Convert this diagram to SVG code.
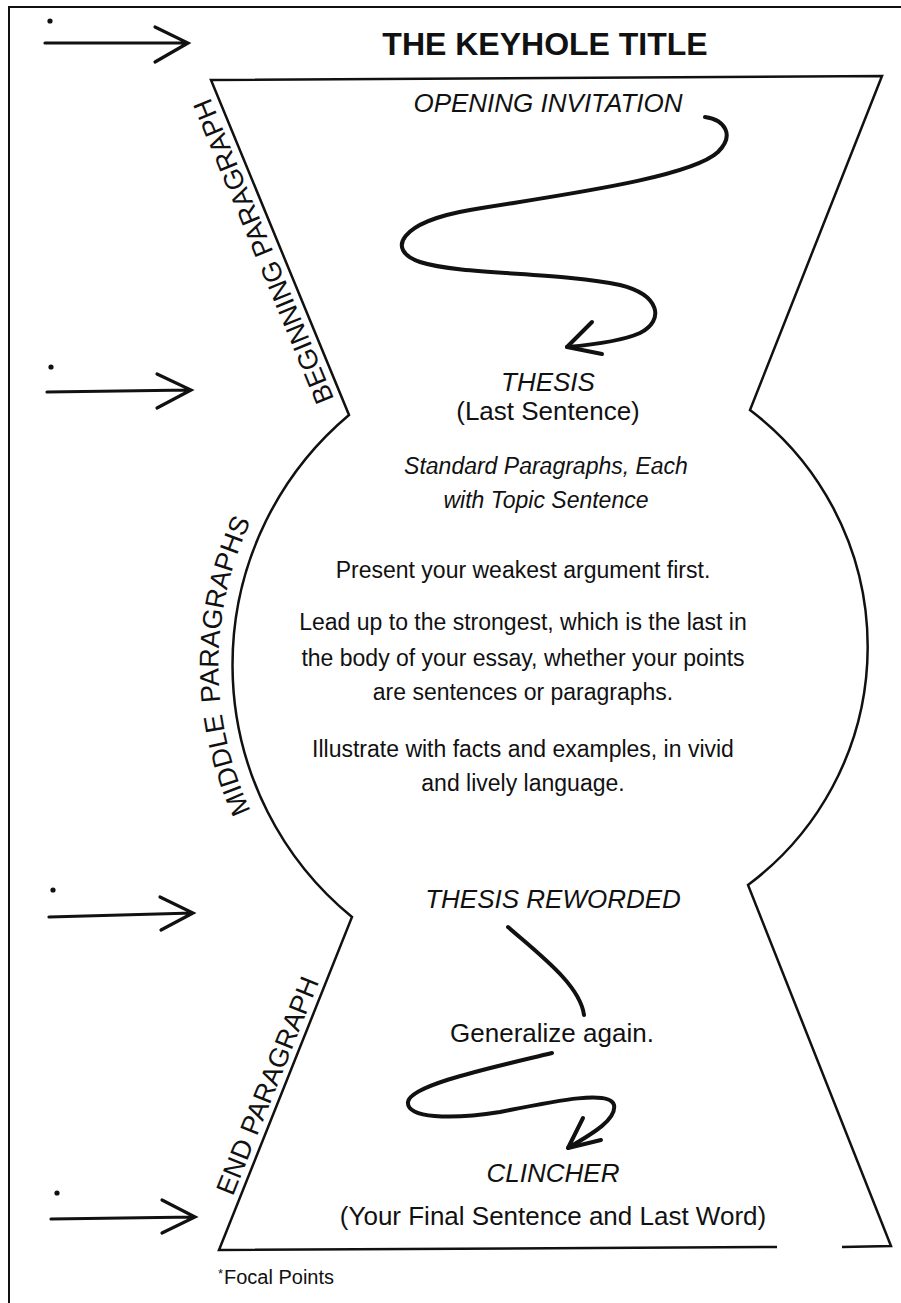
<svg xmlns="http://www.w3.org/2000/svg" width="901" height="1303" viewBox="0 0 901 1303">
<style>
text{font-family:"Liberation Sans",Arial,Helvetica,sans-serif;fill:#111}
.t{font-size:23px;text-anchor:middle}
.i{font-size:26px;font-style:italic;text-anchor:middle}
.side{font-size:27px}
.ln{fill:none;stroke:#111;stroke-width:2.5;stroke-linejoin:miter}
.sw{fill:none;stroke:#111;stroke-width:4;stroke-linecap:round;stroke-linejoin:round}
.ar{fill:none;stroke:#111;stroke-width:3.2;stroke-linecap:round;stroke-linejoin:miter}
</style>
<rect width="901" height="1303" fill="#fff"/>
<path d="M9,1303 V7 H901" fill="none" stroke="#111" stroke-width="2"/>
<g id="keyhole">
<path class="ln" d="M777,1247 L219,1250 L352,917 A326,326 0 0 1 349,415 L211,80 L882,76 L750,410 A297,297 0 0 1 748,885 L891,1246 L842,1247"/>
<path id="midArc" d="M298,884.5 A340,340 0 0 1 298,447.5" fill="none"/>
</g>
<g id="title"><text x="545" y="55" style="font-size:32px;font-weight:bold;text-anchor:middle">THE KEYHOLE TITLE</text></g>
<g id="beginning-label"><text class="side" transform="translate(272,248) rotate(-112.4)" text-anchor="middle">BEGINNING PARAGRAPH</text></g>
<g id="middle-label"><text class="side"><textPath href="#midArc" startOffset="50%" text-anchor="middle">MIDDLE<tspan dx="4"> PARAGRAPHS</tspan></textPath></text></g>
<g id="end-label"><text class="side" transform="translate(276,1089) rotate(-68.1)" text-anchor="middle">END PARAGRAPH</text></g>
<g id="opening"><text class="i" x="548" y="112">OPENING INVITATION</text></g>
<g id="thesis"><text class="i" x="548" y="391">THESIS</text><text class="t" x="548" y="420" style="font-size:26px">(Last Sentence)</text></g>
<g id="middle-body">
<text class="i" x="546" y="474" style="font-size:23px">Standard Paragraphs, Each</text>
<text class="i" x="546" y="508" style="font-size:23px">with Topic Sentence</text>
<text class="t" x="523" y="578">Present your weakest argument first.</text>
<text class="t" x="523" y="630">Lead up to the strongest, which is the last in</text>
<text class="t" x="523" y="666">the body of your essay, whether your points</text>
<text class="t" x="523" y="700">are sentences or paragraphs.</text>
<text class="t" x="523" y="757">Illustrate with facts and examples, in vivid</text>
<text class="t" x="523" y="791">and lively language.</text>
</g>
<g id="thesis-reworded"><text class="i" x="553" y="908">THESIS REWORDED</text></g>
<g id="generalize"><text class="t" x="552" y="1042" style="font-size:26px">Generalize again.</text></g>
<g id="clincher"><text class="i" x="553" y="1182">CLINCHER</text><text class="t" x="553" y="1225" style="font-size:26px">(Your Final Sentence and Last Word)</text></g>
<g id="footnote"><text x="218" y="1278" style="font-size:13px">*</text><text x="224" y="1284" style="font-size:20px">Focal Points</text></g>
<g id="connectors">
<path class="sw" d="M705,117 C725,120 735,135 718,152 C690,178 560,195 470,210 C400,222 385,250 420,262 C460,275 560,272 620,285 C660,295 665,320 640,333 C620,342 590,345 567,347"/>
<path class="sw" d="M592,322 L567,347 L602,354"/>
<path class="sw" d="M508,927 C540,955 580,985 584,1015"/>
<path class="sw" d="M552,1053 C490,1068 410,1085 408,1102 C406,1118 450,1120 500,1112 C560,1100 610,1090 614,1105 C617,1120 590,1135 568,1148"/>
<path class="sw" d="M583,1118 L568,1148 L601,1140"/>
<g id="focal-arrows">
<circle cx="50" cy="21" r="2.6" fill="#111"/>
<path class="ar" d="M45,43 L188,43 M155,27 L188,43 L155,62"/>
<circle cx="51" cy="367" r="2.6" fill="#111"/>
<path class="ar" d="M47,392 L191,390 M157,374 L191,390 L157,408"/>
<circle cx="53" cy="890" r="2.6" fill="#111"/>
<path class="ar" d="M49,917 L193,913 M160,897 L193,913 L161,930"/>
<circle cx="57" cy="1193" r="2.6" fill="#111"/>
<path class="ar" d="M51,1219 L195,1217 M162,1200 L195,1217 L162,1233"/>
</g>
</g>
</svg>
